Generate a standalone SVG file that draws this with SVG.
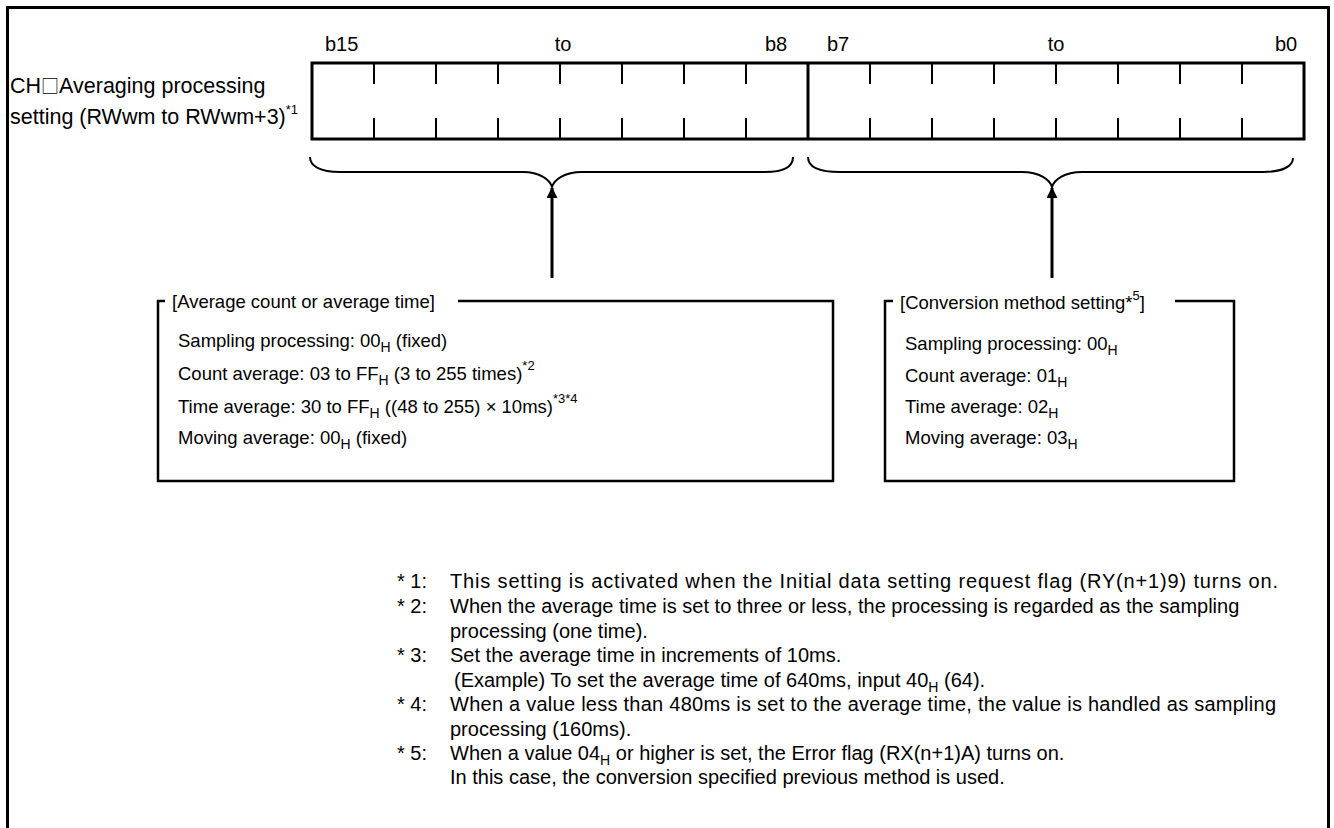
<svg xmlns="http://www.w3.org/2000/svg" width="1334" height="828" viewBox="0 0 1334 828">
<style>
text{font-family:"Liberation Sans",Arial,sans-serif;fill:#000;}
.t{font-size:20px;}
.b{font-size:18.5px;}
.ti{font-size:21.5px;}
.lb{font-size:20px;}
.sub{font-size:14px;}
.sup{font-size:13px;}
.sq{font-family:"Noto Sans CJK JP","Liberation Sans",sans-serif;font-size:18px;}
.thick{fill:none;stroke:#000;stroke-width:3;}
.tick{stroke:#000;stroke-width:2;}
.brace{fill:none;stroke:#000;stroke-width:2;}
.box{fill:none;stroke:#000;stroke-width:2.5;}
</style>
<defs>
<marker id="ah" markerWidth="11" markerHeight="11" refX="10" refY="5.5" orient="auto" markerUnits="userSpaceOnUse">
<path d="M0,0 L11,5.5 L0,11 z" fill="#000"/>
</marker>
</defs>
<rect width="1334" height="828" fill="#fff"/>
<path class="thick" d="M7.5,830 V7.5 H1328.5 V830"/>

<g id="register">
<rect class="thick" x="312" y="63" width="992" height="76"/>
<line class="thick" x1="808" y1="63" x2="808" y2="139"/>
<path class="tick" d="M374,63V84M436,63V84M498,63V84M560,63V84M622,63V84M684,63V84M746,63V84M870,63V84M932,63V84M994,63V84M1056,63V84M1118,63V84M1180,63V84M1242,63V84M374,118V139M436,118V139M498,118V139M560,118V139M622,118V139M684,118V139M746,118V139M870,118V139M932,118V139M994,118V139M1056,118V139M1118,118V139M1180,118V139M1242,118V139"/>
<text class="lb" x="325" y="51">b15</text>
<text class="lb" x="563" y="51" text-anchor="middle">to</text>
<text class="lb" x="765" y="51">b8</text>
<text class="lb" x="827" y="51">b7</text>
<text class="lb" x="1056" y="51" text-anchor="middle">to</text>
<text class="lb" x="1275" y="51">b0</text>
</g>

<g id="title">
<text class="ti" x="10" y="93">CH<tspan class="sq">□</tspan>Averaging processing</text>
<text class="ti" x="10" y="124">setting (RWwm to RWwm+3)<tspan class="sup" dy="-10">*1</tspan></text>
</g>

<g id="connectors">
<path class="brace" d="M310,157 C310,166 320,172 340,172 L523,172 C540,172 550,180 552,187 C554,180 564,172 582,172 L765,172 C785,172 793,166 793,157"/>
<path class="brace" d="M808,157 C808,166 818,172 840,172 L1022,172 C1040,172 1050,180 1052,187 C1054,180 1064,172 1082,172 L1263,172 C1283,172 1293,166 1293,158"/>
<line x1="552" y1="278" x2="552" y2="188" stroke="#000" stroke-width="3" marker-end="url(#ah)"/>
<line x1="1052" y1="278" x2="1052" y2="188" stroke="#000" stroke-width="3" marker-end="url(#ah)"/>
</g>

<g id="avg-box">
<path class="box" d="M165,301 H158 V481 H833 V301 H458"/>
<text class="b" x="172" y="308">[Average count or average time]</text>
<text class="b" x="178" y="347">Sampling processing: 00<tspan class="sub" dy="5">H</tspan><tspan dy="-5"> (fixed)</tspan></text>
<text class="b" x="178" y="380">Count average: 03 to FF<tspan class="sub" dy="5">H</tspan><tspan dy="-5"> (3 to 255 times)</tspan><tspan class="sup" dy="-10">*2</tspan></text>
<text class="b" x="178" y="413">Time average: 30 to FF<tspan class="sub" dy="5">H</tspan><tspan dy="-5"> ((48 to 255) × 10ms)</tspan><tspan class="sup" dy="-10">*3*4</tspan></text>
<text class="b" x="178" y="444">Moving average: 00<tspan class="sub" dy="5">H</tspan><tspan dy="-5"> (fixed)</tspan></text>
</g>

<g id="conv-box">
<path class="box" d="M893,301 H885 V481 H1234 V301 H1175"/>
<text class="b" x="900" y="309">[Conversion method setting*<tspan class="sup" dy="-9">5</tspan><tspan dy="9">]</tspan></text>
<text class="b" x="905" y="350">Sampling processing: 00<tspan class="sub" dy="5">H</tspan></text>
<text class="b" x="905" y="382">Count average: 01<tspan class="sub" dy="5">H</tspan></text>
<text class="b" x="905" y="413">Time average: 02<tspan class="sub" dy="5">H</tspan></text>
<text class="b" x="905" y="444">Moving average: 03<tspan class="sub" dy="5">H</tspan></text>
</g>

<g id="footnotes">
<text class="t" x="397" y="588">* 1:</text>
<text class="t" x="450" y="588" textLength="828">This setting is activated when the Initial data setting request flag (RY(n+1)9) turns on.</text>
<text class="t" x="397" y="613">* 2:</text>
<text class="t" x="450" y="613">When the average time is set to three or less, the processing is regarded as the sampling</text>
<text class="t" x="450" y="638">processing (one time).</text>
<text class="t" x="397" y="662">* 3:</text>
<text class="t" x="450" y="662">Set the average time in increments of 10ms.</text>
<text class="t" x="454" y="687">(Example) To set the average time of 640ms, input 40<tspan class="sub" dy="5">H</tspan><tspan dy="-5"> (64).</tspan></text>
<text class="t" x="397" y="711">* 4:</text>
<text class="t" x="450" y="711" textLength="826">When a value less than 480ms is set to the average time, the value is handled as sampling</text>
<text class="t" x="450" y="736">processing (160ms).</text>
<text class="t" x="397" y="760">* 5:</text>
<text class="t" x="450" y="760">When a value 04<tspan class="sub" dy="5">H</tspan><tspan dy="-5"> or higher is set, the Error flag (RX(n+1)A) turns on.</tspan></text>
<text class="t" x="450" y="784">In this case, the conversion specified previous method is used.</text>
</g>
</svg>
